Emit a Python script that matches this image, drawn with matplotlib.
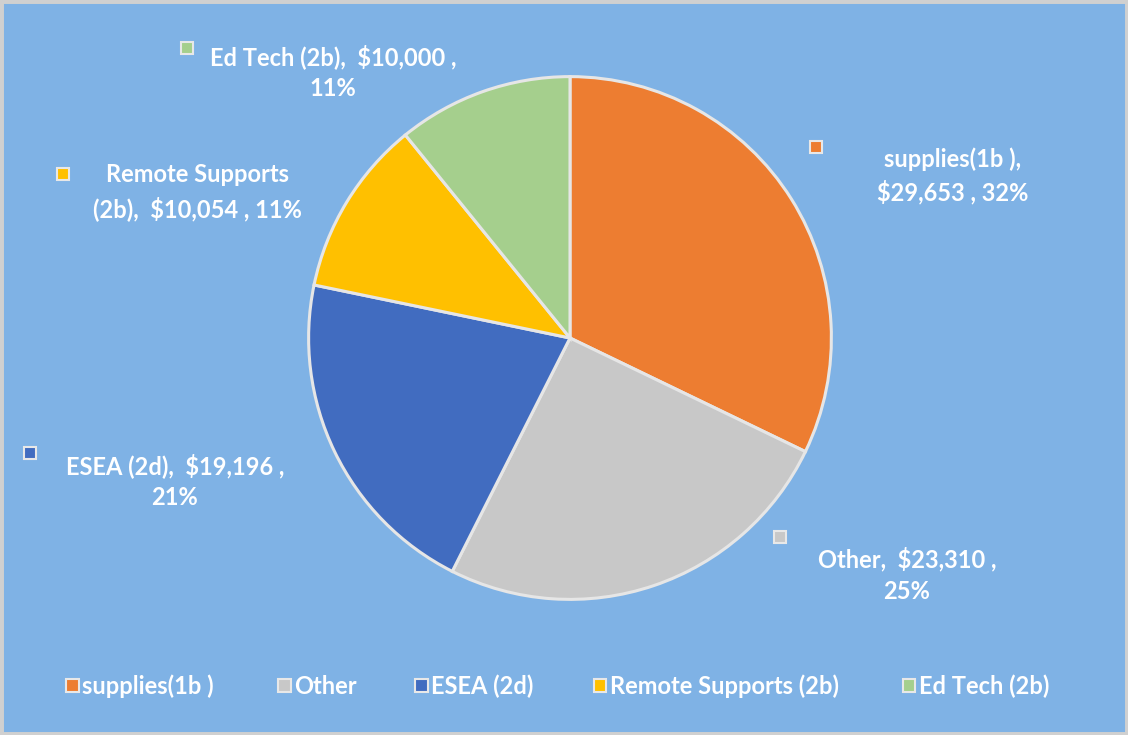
import matplotlib.pyplot as plt
from matplotlib.patches import Rectangle

# datos del grafico
categorias = ["supplies(1b )", "Other", "ESEA (2d)", "Remote Supports (2b)", "Ed Tech (2b)"]
valores = [29653, 23310, 19196, 10054, 10000]
colores = ["#ED7D31", "#C8C8C8", "#416CC0", "#FFC000", "#A5CF8D"]
etiquetas = [
    ["supplies(1b ),", "$29,653 , 32%"],
    ["Other,  $23,310 ,", "25%"],
    ["ESEA (2d),  $19,196 ,", "21%"],
    ["Remote Supports", "(2b),  $10,054 , 11%"],
    ["Ed Tech (2b),  $10,000 ,", "11%"],
]

W, H = 1128, 735
fondo = "#7FB2E5"
fig = plt.figure(figsize=(W / 100, H / 100), dpi=100, facecolor=fondo)
plt.rcParams['font.family'] = ['Lato', 'DejaVu Sans']

def fx(x): return x / W
def fy(y): return 1 - y / H

# borde gris claro
fig.patches.append(Rectangle((0, 0), 1, 1, transform=fig.transFigure, fill=False,
                             edgecolor="#D0D0D0", linewidth=5))

# pastel: centro (570, 338) px, radio 264 px
cx, cy, r = 570, 338, 264
ax = fig.add_axes([fx(cx - r), fy(cy + r), 2 * r / W, 2 * r / H])
ax.pie(valores, colors=colores, startangle=90, counterclock=False,
       wedgeprops=dict(edgecolor="#E6E6E6", linewidth=2.2))
ax.set_xlim(-1.01, 1.01); ax.set_ylim(-1.01, 1.01)
ax.set_aspect('equal'); ax.axis('off')

# posiciones de etiquetas (px): centro del texto, marcador
pos_texto = [(953, 176), (907, 575), (175, 481), (197, 192), (333, 72)]
pos_marca = [(816, 147), (780, 537), (30, 453), (63, 174), (187, 48)]
for lineas, (tx, ty), (mx, my), c in zip(etiquetas, pos_texto, pos_marca, colores):
    fig.text(fx(tx), fy(ty), "\n".join(lineas), ha="center", va="center", color="white",
             fontsize=17, fontweight="bold", linespacing=1.45)
    fig.patches.append(Rectangle((fx(mx - 6), fy(my + 6)), 12 / W, 12 / H, transform=fig.transFigure,
                                 facecolor=c, edgecolor="#E8E8E8", linewidth=1.5))

# leyenda manual
ley_x = [72, 284, 421, 600, 909]
for nombre, c, x in zip(categorias, colores, ley_x):
    fig.patches.append(Rectangle((fx(x - 6.5), fy(685 + 6.5)), 13 / W, 13 / H, transform=fig.transFigure,
                                 facecolor=c, edgecolor="#E8E8E8", linewidth=1.5))
    fig.text(fx(x + 10), fy(686), nombre, ha="left", va="center", color="white",
             fontsize=17, fontweight="bold")

fig.savefig("out.png", dpi=100, facecolor=fondo)
